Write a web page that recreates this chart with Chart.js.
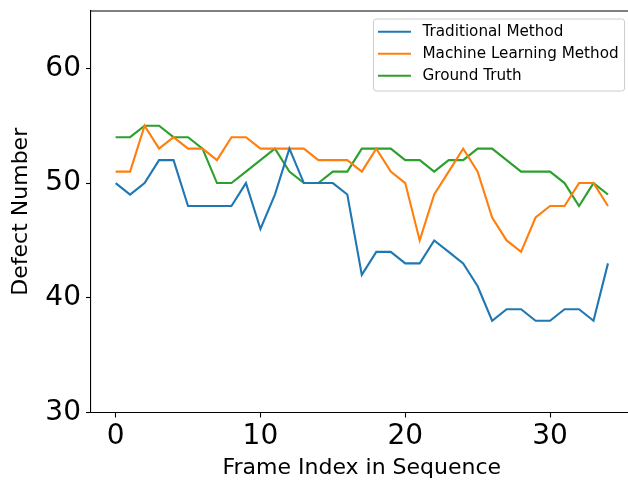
<!DOCTYPE html>
<html>
<head>
<meta charset="utf-8">
<script src="https://cdn.jsdelivr.net/npm/chart.js@4.4.1/dist/chart.umd.min.js"></script>
<style>
html,body{margin:0;padding:0;background:#fff;overflow:hidden;width:628px;height:483px}
#wrap{width:700px;height:483px}
canvas{display:block}
</style>
</head>
<body>
<div id="wrap"><canvas id="c" width="700" height="483"></canvas></div>
<script>
// ---- data ----
const frameIndex = [0,1,2,3,4,5,6,7,8,9,10,11,12,13,14,15,16,17,18,19,20,21,22,23,24,25,26,27,28,29,30,31,32,33,34];
const traditionalMethod = [50,49,50,52,52,48,48,48,48,50,46,49,53,50,50,50,49,42,44,44,43,43,45,44,43,41,38,39,39,38,38,39,39,38,43];
const machineLearningMethod = [51,51,55,53,54,53,53,52,54,54,53,53,53,53,52,52,52,51,53,51,50,45,49,51,53,51,47,45,44,47,48,48,50,50,48];
const groundTruth = [54,54,55,55,54,54,53,50,50,51,52,53,51,50,50,51,51,53,53,53,52,52,51,52,52,53,53,52,51,51,51,50,48,50,49];
const seriesNames = ['Traditional Method','Machine Learning Method','Ground Truth'];
const xTicks = [0,10,20,30];
const yTicks = [30,40,50,60];
const xTitle = 'Frame Index in Sequence';
const yTitle = 'Defect Number';

const FONT = "'DejaVu Sans', sans-serif";
const colors = ['#1f77b4','#ff7f0e','#2ca02c'];
const seriesValues = [traditionalMethod, machineLearningMethod, groundTruth];
const CANVAS_W = 700, AXES_RIGHT = 632.6;

const datasets = seriesValues.map((vals, k) => ({
  label: seriesNames[k],
  data: frameIndex.map((x, i) => ({x: x, y: vals[i]})),
  borderColor: colors[k],
  backgroundColor: colors[k],
  borderWidth: 2.1,
  pointRadius: 0,
  tension: 0,
  fill: false
}));

// top and right spines (left/bottom come from the scale borders)
const framePlugin = {
  id: 'frame',
  afterDraw(chart) {
    const {ctx, chartArea: ca} = chart;
    ctx.save();
    ctx.strokeStyle = '#000';
    ctx.lineWidth = 1.1;
    ctx.beginPath();
    ctx.moveTo(ca.left, ca.top);
    ctx.lineTo(ca.right, ca.top);
    ctx.lineTo(ca.right, ca.bottom);
    ctx.stroke();
    ctx.restore();
  }
};

const legendPlugin = {
  id: 'boxLegend',
  afterDraw(chart) {
    const {ctx, chartArea: ca} = chart;
    const fs = 15.2;
    ctx.save();
    ctx.font = fs + 'px ' + FONT;
    const items = chart.data.datasets;
    const tw = Math.max(...items.map(d => ctx.measureText(d.label).width));
    const padL = 4.5, hl = 33, tp = 11.5, padR = 6;
    const w = padL + hl + tp + tw + padR;
    const right = ca.right - 8;
    const left = right - w;
    const top = ca.top + 8;
    const rowH = 22;
    const h = 72;
    const r = 3;
    ctx.beginPath();
    ctx.moveTo(left + r, top);
    ctx.lineTo(right - r, top);
    ctx.arcTo(right, top, right, top + r, r);
    ctx.lineTo(right, top + h - r);
    ctx.arcTo(right, top + h, right - r, top + h, r);
    ctx.lineTo(left + r, top + h);
    ctx.arcTo(left, top + h, left, top + h - r, r);
    ctx.lineTo(left, top + r);
    ctx.arcTo(left, top, left + r, top, r);
    ctx.closePath();
    ctx.fillStyle = 'rgba(255,255,255,0.8)';
    ctx.fill();
    ctx.strokeStyle = '#cccccc';
    ctx.lineWidth = 1;
    ctx.stroke();
    items.forEach((d, i) => {
      const y = top + 12.7 + i * rowH;
      ctx.beginPath();
      ctx.strokeStyle = d.borderColor;
      ctx.lineWidth = 2.1;
      ctx.moveTo(left + padL, y);
      ctx.lineTo(left + padL + hl, y);
      ctx.stroke();
      ctx.fillStyle = '#000';
      ctx.textBaseline = 'middle';
      ctx.textAlign = 'left';
      ctx.fillText(d.label, left + padL + hl + tp, y + 0.5);
    });
    ctx.restore();
  }
};

function zeroPad(s) {
  s.paddingTop = 0; s.paddingBottom = 0; s.paddingLeft = 0; s.paddingRight = 0;
}

new Chart(document.getElementById('c'), {
  type: 'line',
  data: { datasets: datasets },
  options: {
    responsive: false,
    animation: false,
    devicePixelRatio: 1,
    layout: { padding: { top: 11, right: CANVAS_W - AXES_RIGHT, left: 0, bottom: 0 } },
    plugins: { legend: { display: false }, tooltip: { enabled: false } },
    scales: {
      x: {
        type: 'linear',
        min: -1.7,
        max: 35.7,
        afterBuildTicks: s => { s.ticks = xTicks.map(v => ({value: v})); },
        afterFit: s => { s.height = 483 - 412.5; zeroPad(s); },
        grid: { drawOnChartArea: false, drawTicks: true, tickLength: 5, tickColor: '#000', tickWidth: 1.1 },
        border: { display: true, color: '#000', width: 1.1 },
        ticks: { color: '#000', font: { family: FONT, size: 28 }, padding: 2, maxRotation: 0, autoSkip: false },
        title: { display: true, text: xTitle, color: '#000', font: { family: FONT, size: 22 }, padding: { top: 0, bottom: 2 } }
      },
      y: {
        type: 'linear',
        min: 30,
        max: 65,
        afterBuildTicks: s => { s.ticks = yTicks.map(v => ({value: v})); },
        afterFit: s => { s.width = 91; zeroPad(s); },
        grid: { drawOnChartArea: false, drawTicks: true, tickLength: 5, tickColor: '#000', tickWidth: 1.1 },
        border: { display: true, color: '#000', width: 1.1 },
        ticks: { color: '#000', font: { family: FONT, size: 28 }, padding: 5 },
        title: { display: true, text: yTitle, color: '#000', font: { family: FONT, size: 22 }, padding: { top: 8, bottom: 0 } }
      }
    }
  },
  plugins: [framePlugin, legendPlugin]
});
</script>
</body>
</html>
